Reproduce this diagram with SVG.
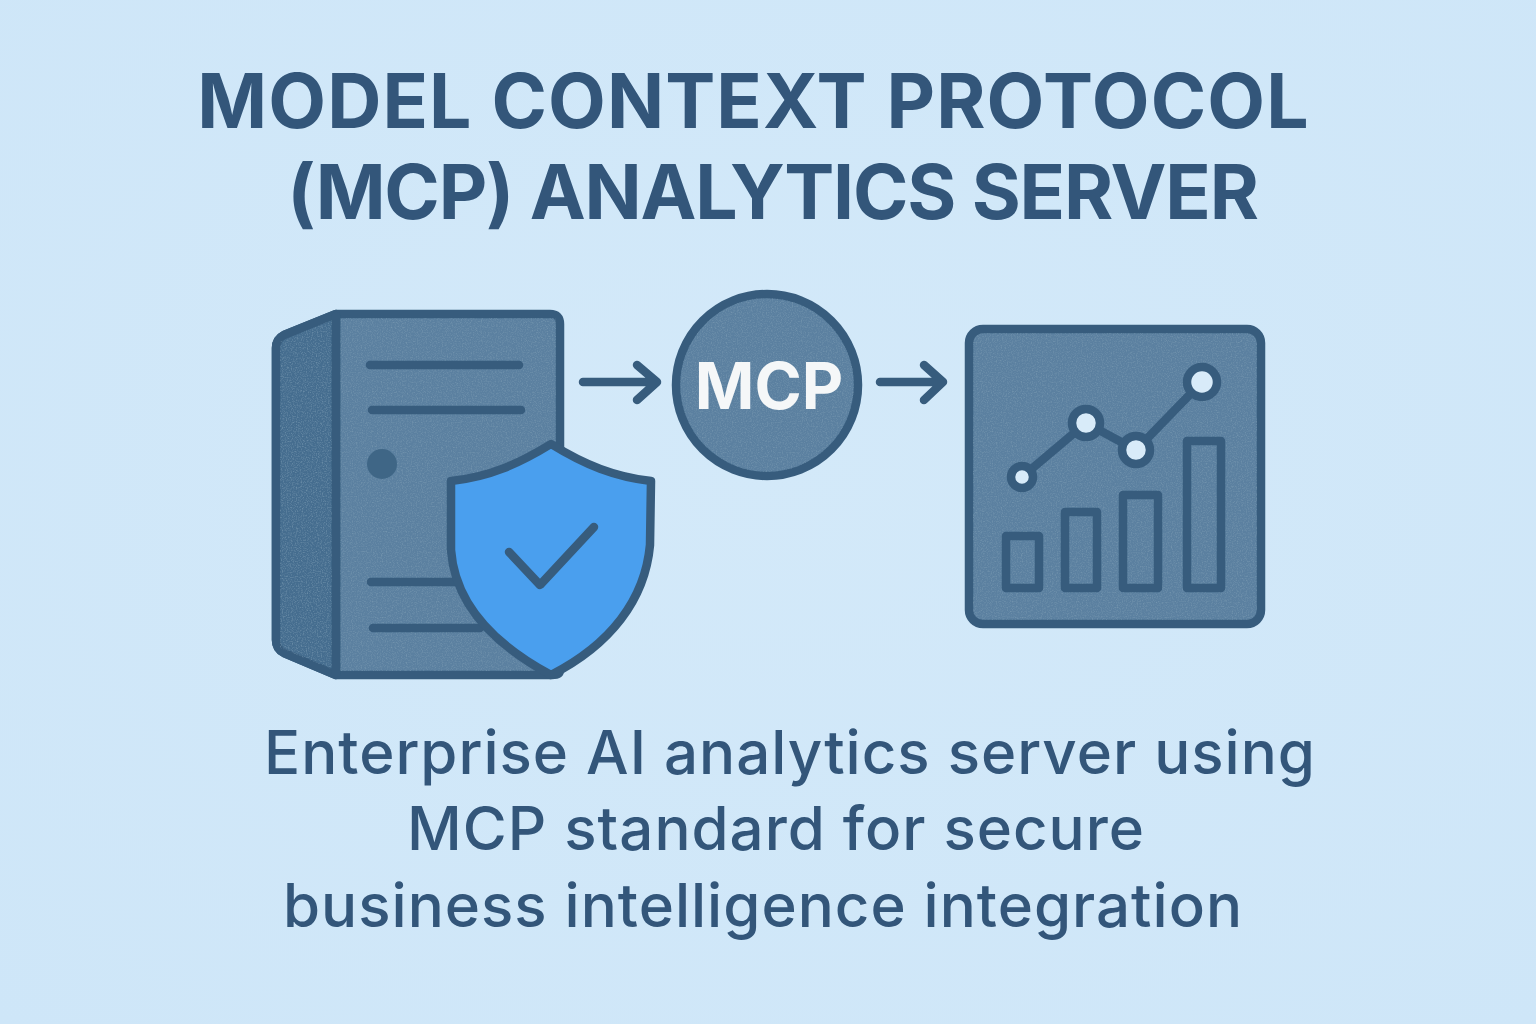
<svg xmlns="http://www.w3.org/2000/svg" width="1536" height="1024" viewBox="0 0 1536 1024">
<defs>
<radialGradient id="bg" cx="50%" cy="45%" r="75%">
<stop offset="0" stop-color="#d3e9f9"/>
<stop offset="1" stop-color="#cee6f8"/>
</radialGradient>
<filter id="grain" x="0" y="0" width="100%" height="100%">
<feTurbulence type="fractalNoise" baseFrequency="0.8" numOctaves="2" seed="4"/>
<feColorMatrix type="matrix" values="0 0 0 0 0.2  0 0 0 0 0.33  0 0 0 0 0.45  0 0 0 1.6 -0.72"/>
</filter>
<clipPath id="grainClip">
<path d="M336 318H556V671H336L280 648V342Z"/>
<circle cx="767" cy="385" r="87"/>
<rect x="973" y="333" width="284" height="287" rx="10"/>
</clipPath>
</defs>
<style>
.t{font-family:Inter,"Liberation Sans",sans-serif;fill:#33567a;text-anchor:middle}
.h{font-size:75px;font-weight:700}
.s{font-size:60px;font-weight:500;letter-spacing:1px}
.o{stroke:#375c7d;stroke-width:8.5;stroke-linecap:round;stroke-linejoin:round}
.f{fill:#5b80a0}
.n{fill:none}
</style>
<rect id="background" width="1536" height="1024" fill="url(#bg)"/>
<g id="title">
<text class="t h" x="753.5" y="128" letter-spacing="1.1">MODEL CONTEXT PROTOCOL</text>
<text class="t h" x="772.5" y="219" letter-spacing="-1.2">(MCP) ANALYTICS SERVER</text>
</g>
<g id="server">
<path class="o f" d="M336 314H550Q560 314 560 324V670Q560 675 552 675H336L284 653Q276 649 276 640V348Q276 339 284 335Z"/>
<path d="M336 314V675L284 653Q276 649 276 640V348Q276 339 284 335Z" fill="#456d8f" class="o"/>
</g>
<g id="mcp">
<circle cx="767" cy="385" r="91" class="f" stroke="#375c7d" stroke-width="8.5"/>
</g>
<g id="dashboard">
<rect x="969" y="329" width="292" height="295" rx="14" class="o f"/>
</g>
<rect id="texture" width="1536" height="1024" filter="url(#grain)" clip-path="url(#grainClip)"/>
<g id="server-details">
<path class="o n" d="M336 316V673M370 365H519M372 410H521M371 582H460M373 628H480"/>
<circle cx="382" cy="464" r="15" fill="#3f6686"/>
</g>
<g id="shield">
<path class="o" d="M551 444C585 465 615 477 651 481L650 545C645 600 610 645 551 675C495 645 455 605 451 550V481C490 477 520 463 551 444Z" fill="#4a9fee"/>
<path class="o n" d="M509 552L540 585L594 527"/>
</g>
<g id="mcp-label">
<text x="769" y="409" text-anchor="middle" font-family="Inter,'Liberation Sans',sans-serif" font-size="64" font-weight="700" fill="#f5f7f8">MCP</text>
</g>
<g id="connectors">
<path class="o n" d="M583 382H656M637 365L657 382L637 400"/>
<path class="o n" d="M880 382H942M924 365L943 382L924 400"/>
</g>
<g id="chart">
<path class="o n" d="M1006 536H1039V588H1006ZM1065 512H1097V588H1065ZM1123 495H1158V588H1123ZM1187 441H1221V588H1187Z"/>
<path class="o n" d="M1022 477L1086 423L1136 450L1202 382"/>
<g stroke="#375c7d" stroke-width="8.5" fill="#d8ebf9">
<circle cx="1022" cy="477" r="11"/>
<circle cx="1086" cy="423" r="14"/>
<circle cx="1136" cy="450" r="14"/>
<circle cx="1202" cy="382" r="15"/>
</g>
</g>
<g id="caption">
<text class="t s" x="790" y="774">Enterprise AI analytics server using</text>
<text class="t s" x="776" y="850">MCP standard for secure</text>
<text class="t s" x="763" y="927" letter-spacing="0.85">business intelligence integration</text>
</g>
</svg>
